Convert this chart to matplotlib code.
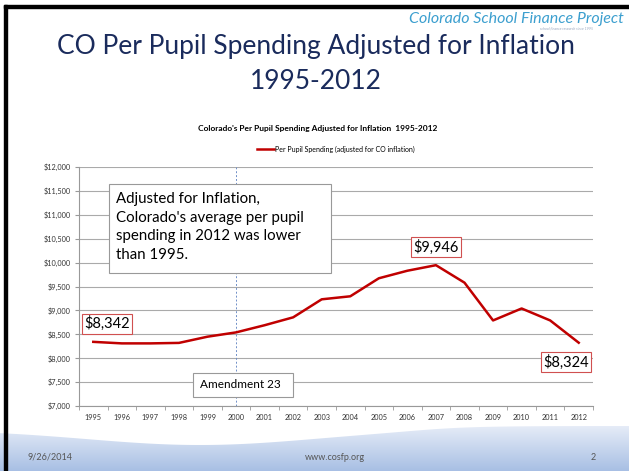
import matplotlib
matplotlib.use("Agg")
import matplotlib.pyplot as plt
import numpy as np
from matplotlib.patches import Polygon, Rectangle
from matplotlib.colors import LinearSegmentedColormap

years = ["1995", "1996", "1997", "1998", "1999", "2000", "2001", "2002", "2003",
         "2004", "2005", "2006", "2007", "2008", "2009", "2010", "2011", "2012"]
spending = [8342, 8310, 8310, 8320, 8450, 8540, 8690, 8855, 9232,
            9295, 9672, 9830, 9946, 9580, 8790, 9040, 8790, 8324]
yticks = [7000, 7500, 8000, 8500, 9000, 9500, 10000, 10500, 11000, 11500, 12000]
series_label = "Per Pupil Spending (adjusted for CO inflation)"
chart_title = "Colorado's Per Pupil Spending Adjusted for Inflation  1995-2012"
slide_title = "CO Per Pupil Spending Adjusted for Inflation\n1995-2012"

plt.rcParams['font.family'] = ['Lato', 'DejaVu Sans']

W, H = 629, 471
fig = plt.figure(figsize=(W / 100, H / 100), dpi=100)

# background slide axes in pixel coordinates
bg = fig.add_axes([0, 0, 1, 1])
bg.set_xlim(0, W)
bg.set_ylim(H, 0)
bg.axis("off")

# bottom wave with gradient
xs = np.linspace(0, W, 200)
top = 430 + 15 * np.exp(-((xs - 200) / 160) ** 2) - 4 * (1 / (1 + np.exp(-(xs - 420) / 25)))
verts = [(0, H)] + list(zip(xs, top)) + [(W, H)]
poly = Polygon(verts, closed=True, facecolor="none", edgecolor="none")
bg.add_patch(poly)
grad = np.linspace(0, 1, 100).reshape(-1, 1)
cmap = LinearSegmentedColormap.from_list("w", ["#e8eef8", "#a8bfe4"])
im = bg.imshow(grad, extent=[0, W, H, 424], cmap=cmap, aspect="auto", zorder=0)
im.set_clip_path(poly)

# black frame on left and top
bg.add_patch(Rectangle((4, 5), 3, H, color="black", zorder=5))
bg.add_patch(Rectangle((4, 5), W, 3, color="black", zorder=5))

# slide title
bg.text(316, 64, slide_title, ha="center", va="center", fontsize=19,
        color="#1a2b5c", linespacing=1.5)

# logo
bg.text(624, 19, "Colorado School Finance Project", ha="right", va="center",
        fontsize=11.5, style="italic", color="#3c9fcf")
bg.text(593, 29, "school finance research since 1995", ha="right", va="center",
        fontsize=2.6, style="italic", color="#9aa8c0")

# footer
bg.text(28, 457, "9/26/2014", ha="left", va="center", fontsize=6.5, color="#555555")
bg.text(335, 457, "www.cosfp.org", ha="center", va="center", fontsize=6.5, color="#555555")
bg.text(596, 457, "2", ha="right", va="center", fontsize=6.5, color="#555555")

# chart title
bg.text(318, 128, chart_title, ha="center", va="center", fontsize=6, fontweight="bold",
        color="black")

# chart axes
left, right, topy, boty = 79, 593, 167, 406
ax = fig.add_axes([left / W, 1 - boty / H, (right - left) / W, (boty - topy) / H])
ax.set_facecolor("none")
x = np.arange(len(years))
line, = ax.plot(x, spending, color="#c00000", lw=1.8, label=series_label, zorder=3)
ax.set_xlim(-0.5, len(years) - 0.5)
ax.set_ylim(yticks[0], yticks[-1])
ax.set_yticks(yticks)
ax.set_yticklabels(["${:,}".format(v) for v in yticks], fontsize=5.3, color="#333333")
ax.set_xticks(x)
ax.set_xticklabels(years, fontsize=5.3, color="#333333")
ax.tick_params(axis="x", length=0, pad=6)
ax.set_xticks(np.arange(-0.5, len(years)), minor=True)
ax.tick_params(axis="x", which="minor", length=3, color="#999999", direction="out")
ax.tick_params(axis="y", length=3, color="#999999", pad=3)
ax.grid(axis="y", color="#aaaaaa", lw=0.8)
for s in ["top", "right"]:
    ax.spines[s].set_visible(False)
ax.spines["left"].set_color("#999999")
ax.spines["bottom"].set_color("#999999")
ax.set_axisbelow(True)

# amendment line
ax.axvline(years.index("2000"), color="#6f8fc8", lw=0.7, ls=(0, (2, 2)), zorder=2)

leg = ax.legend(handles=[line], loc="center", bbox_to_anchor=(0.5, 1.075),
                frameon=False, fontsize=5, handlelength=2.4, handletextpad=0.2,
                borderaxespad=0)

# value labels
box_red = dict(boxstyle="square,pad=0.15", fc="white", ec="#d05050", lw=0.8)
ax.annotate("${:,}".format(spending[0]), (0, spending[0]), xytext=(10, 13),
            textcoords="offset points", ha="center", va="center", fontsize=10.5,
            bbox=box_red, zorder=6)
imax = int(np.argmax(spending))
ax.annotate("${:,}".format(spending[imax]), (imax, spending[imax]), xytext=(0, 13),
            textcoords="offset points", ha="center", va="center", fontsize=10.5,
            bbox=box_red, zorder=6)
ax.annotate("${:,}".format(spending[-1]), (len(years) - 1, spending[-1]), xytext=(-9, -14),
            textcoords="offset points", ha="center", va="center", fontsize=10.5,
            bbox=box_red, zorder=6)

# text boxes (drawn above the chart's grid)
tr = bg.transData
ax.add_patch(Rectangle((109, 184), 222, 89, transform=tr, fc="white", ec="#999999",
                       lw=0.8, zorder=5, clip_on=False))
ax.text(116, 227, "Adjusted for Inflation,\nColorado's average per pupil\nspending in 2012 was lower\nthan 1995.",
        transform=tr, ha="left", va="center", fontsize=10.8, linespacing=1.45, zorder=6,
        clip_on=False)
ax.add_patch(Rectangle((193, 373), 100, 24, transform=tr, fc="white", ec="#999999",
                       lw=0.8, zorder=5, clip_on=False))
ax.text(200, 385, "Amendment 23", transform=tr, ha="left", va="center", fontsize=8.5,
        zorder=6, clip_on=False)

fig.savefig("out.png", dpi=100)
